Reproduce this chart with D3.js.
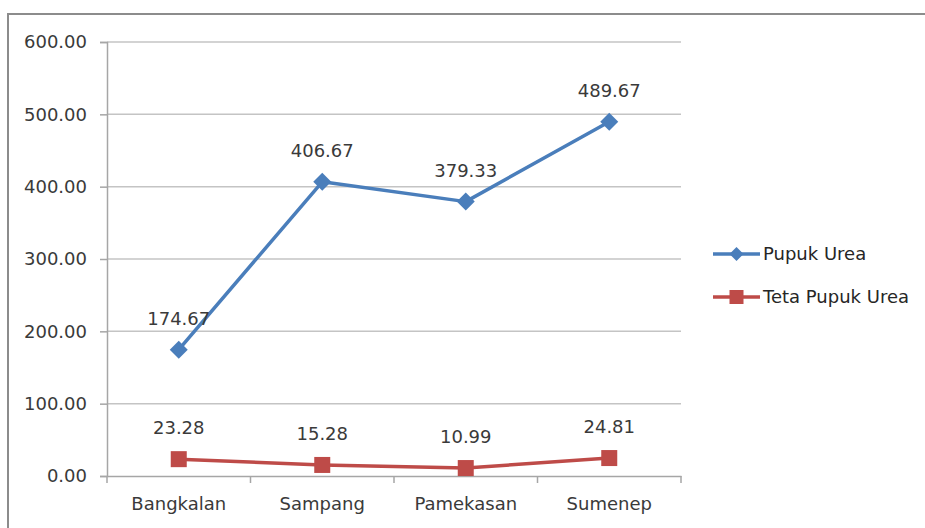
<!DOCTYPE html>
<html>
<head>
<meta charset="utf-8">
<script src="https://cdn.jsdelivr.net/npm/d3@7"></script>
<style>
  html, body { margin: 0; padding: 0; background: #fff; }
  svg { display: block; }
</style>
</head>
<body>
<svg id="chart" width="925" height="528"></svg>
<script>
const categories = ["Bangkalan", "Sampang", "Pamekasan", "Sumenep"];
const pupukUrea = [174.67, 406.67, 379.33, 489.67];
const tetaPupukUrea = [23.28, 15.28, 10.99, 24.81];
const yTicks = [0, 100, 200, 300, 400, 500, 600];
const seriesNames = ["Pupuk Urea", "Teta Pupuk Urea"];

const FONT = "'DejaVu Sans', sans-serif";
const FS = 18;
const svg = d3.select("#chart");

// outer border
svg.append("path")
  .attr("d", "M8,540 L8,14 L935,14")
  .attr("fill", "none").attr("stroke", "#8c8c8c").attr("stroke-width", 2);

const x = d3.scaleBand().domain(categories).range([107, 681]);
const y = d3.scaleLinear().domain([0, 600]).range([476, 42]);

// gridlines
svg.append("g").selectAll("line").data(yTicks.filter(d => d > 0)).join("line")
  .attr("x1", 107).attr("x2", 681)
  .attr("y1", d => y(d)).attr("y2", d => y(d))
  .attr("stroke", "#c4c4c4").attr("stroke-width", 1.5);

// y axis
const yAxis = svg.append("g").attr("transform", "translate(107,0)")
  .call(d3.axisLeft(y).tickValues(yTicks).tickSize(7).tickPadding(13).tickFormat(d3.format(".2f")));
yAxis.select(".domain").attr("stroke", "#a6a6a6").attr("stroke-width", 1.5);
yAxis.selectAll(".tick line").attr("stroke", "#a6a6a6").attr("stroke-width", 1.5);
yAxis.selectAll(".tick text").attr("font-family", FONT).attr("font-size", FS).attr("fill", "#3a3a3a");

// x axis
const xAxis = svg.append("g").attr("transform", "translate(0,476)")
  .call(d3.axisBottom(x).tickSize(0).tickPadding(21));
xAxis.select(".domain").attr("stroke", "#a6a6a6").attr("stroke-width", 1.5);
xAxis.selectAll(".tick text").attr("font-family", FONT).attr("font-size", FS).attr("fill", "#3a3a3a");
// boundary tick marks between categories
const bounds = categories.map(c => x(c)).concat([x.range()[1]]);
svg.append("g").selectAll("line").data(bounds).join("line")
  .attr("x1", d => d).attr("x2", d => d).attr("y1", 476).attr("y2", 483)
  .attr("stroke", "#a6a6a6").attr("stroke-width", 1.5);

const cx = c => x(c) + x.bandwidth() / 2;
const line = d3.line().x((d, i) => cx(categories[i])).y(d => y(d));

const colors = ["#4a7ebb", "#be4b48"];
const series = [pupukUrea, tetaPupukUrea];

series.forEach((vals, si) => {
  svg.append("path").datum(vals).attr("d", line)
    .attr("fill", "none").attr("stroke", colors[si]).attr("stroke-width", 3.5)
    .attr("stroke-linejoin", "round");
  const g = svg.append("g");
  if (si === 0) {
    g.selectAll("path").data(vals).join("path")
      .attr("d", "M0,-9 L9,0 L0,9 L-9,0 Z")
      .attr("transform", (d, i) => `translate(${cx(categories[i])},${y(d)})`)
      .attr("fill", colors[si]);
  } else {
    g.selectAll("rect").data(vals).join("rect")
      .attr("x", (d, i) => cx(categories[i]) - 8).attr("y", d => y(d) - 8)
      .attr("width", 16).attr("height", 16)
      .attr("fill", colors[si]);
  }
  svg.append("g").selectAll("text").data(vals).join("text")
    .attr("x", (d, i) => cx(categories[i])).attr("y", d => y(d) - 25)
    .attr("text-anchor", "middle")
    .attr("font-family", FONT).attr("font-size", FS).attr("fill", "#3a3a3a")
    .text(d => d.toFixed(2));
});

// legend
const legY = [254, 297];
seriesNames.forEach((name, i) => {
  const g = svg.append("g").attr("transform", `translate(0,${legY[i]})`);
  g.append("line").attr("x1", 713).attr("x2", 760).attr("y1", 0).attr("y2", 0)
    .attr("stroke", colors[i]).attr("stroke-width", 3.5);
  if (i === 0) {
    g.append("path").attr("d", "M736.5,-7 L743.5,0 L736.5,7 L729.5,0 Z").attr("fill", colors[i]);
  } else {
    g.append("rect").attr("x", 729.5).attr("y", -7).attr("width", 14).attr("height", 14).attr("fill", colors[i]);
  }
  g.append("text").attr("x", 763).attr("y", 0).attr("dy", "0.35em")
    .attr("font-family", FONT).attr("font-size", FS).attr("fill", "#262626")
    .text(name);
});
</script>
</body>
</html>
